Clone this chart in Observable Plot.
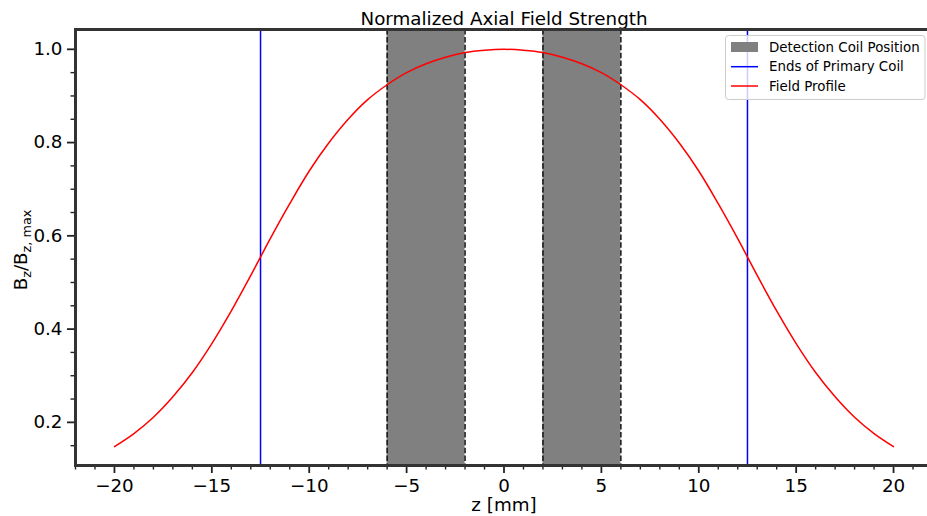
<!DOCTYPE html>
<html>
<head>
<meta charset="utf-8">
<script src="https://cdn.jsdelivr.net/npm/d3@7"></script>
<script src="https://cdn.jsdelivr.net/npm/@observablehq/plot@0.6"></script>
<style>
  html, body { margin: 0; padding: 0; background: #fff; }
  #chart svg { display: block; font-family: "DejaVu Sans", sans-serif; }
</style>
</head>
<body>
<div id="chart"></div>
<script>
// Axial position along the coil axis (mm)
const zPositions = [-20, -19, -18, -17, -16, -15, -14, -13, -12, -11, -10, -9, -8, -7, -6, -5, -4, -3, -2, -1,
  0, 1, 2, 3, 4, 5, 6, 7, 8, 9, 10, 11, 12, 13, 14, 15, 16, 17, 18, 19, 20];
// Normalized axial field B_z / B_z,max at each position
const fieldRatio = [0.148, 0.176, 0.211, 0.255, 0.307, 0.369, 0.439, 0.515, 0.594, 0.669, 0.739, 0.799, 0.850, 0.892, 0.924, 0.950, 0.969, 0.983, 0.993, 0.998,
  1.000, 0.998, 0.993, 0.983, 0.969, 0.950, 0.924, 0.892, 0.850, 0.799, 0.739, 0.669, 0.594, 0.515, 0.439, 0.369, 0.307, 0.255, 0.211, 0.176, 0.148];

// Detection coil extents (mm)
const coilStart = [-6, 2];
const coilEnd = [-2, 6];
// Ends of the primary coil (mm)
const primaryEnds = [-12.5, 12.5];

// Tick values
const xMajorTicks = [-20, -15, -10, -5, 0, 5, 10, 15, 20];
const xMinorTicks = [-22, -21, -19, -18, -17, -16, -14, -13, -12, -11, -9, -8, -7, -6, -4, -3, -2, -1,
  1, 2, 3, 4, 6, 7, 8, 9, 11, 12, 13, 14, 16, 17, 18, 19, 21, 22];
const yMajorTicks = [0.2, 0.4, 0.6, 0.8, 1.0];
const yMinorTicks = [0.15, 0.25, 0.3, 0.35, 0.45, 0.5, 0.55, 0.65, 0.7, 0.75, 0.85, 0.9, 0.95];

const titleText = "Normalized Axial Field Strength";
const xLabelText = "z [mm]";
const legendLabels = ["Detection Coil Position", "Ends of Primary Coil", "Field Profile"];
const legendColors = ["#808080", "#0000ff", "#ff0000"];

const profile = zPositions.map((z, i) => ({z, b: fieldRatio[i]}));
const bands = coilStart.map((s, i) => ({x1: s, x2: coilEnd[i]}));
const bandEdges = coilStart.concat(coilEnd);

const minusFmt = d => (d < 0 ? "\u2212" + Math.abs(d) : String(d));
const FS = 18.3;
const INK = "#222";

const plot = Plot.plot({
  width: 927,
  height: 516,
  marginLeft: 75,
  marginRight: -5,
  marginTop: 29,
  marginBottom: 51,
  style: {fontFamily: "DejaVu Sans, sans-serif", background: "#fff", color: "#000"},
  x: {domain: [-22, 22]},
  y: {domain: [0.1075, 1.0425]},
  marks: [
    Plot.rect(bands, {x1: "x1", x2: "x2", fill: "#808080"}),
    Plot.ruleX(bandEdges, {stroke: "#111", strokeWidth: 1.5, strokeDasharray: "5.5,2.4"}),
    Plot.ruleX(primaryEnds, {stroke: "#0000ff", strokeWidth: 1.5}),
    Plot.line(profile, {x: "z", y: "b", stroke: "#ff0000", strokeWidth: 1.5, curve: "catmull-rom"}),
    Plot.axisX(xMajorTicks, {tickSize: 8, tickPadding: 5.5, tickFormat: minusFmt, fontSize: FS, stroke: INK, strokeWidth: 1.8, fill: "#000", label: null}),
    Plot.axisX(xMinorTicks, {tickSize: 4.5, tickFormat: () => "", stroke: INK, strokeWidth: 1.4, label: null}),
    Plot.axisY(yMajorTicks, {tickSize: 8, tickPadding: 5, tickFormat: d3.format(".1f"), fontSize: FS, stroke: INK, strokeWidth: 1.8, fill: "#000", label: null}),
    Plot.axisY(yMinorTicks, {tickSize: 4.5, tickFormat: () => "", stroke: INK, strokeWidth: 1.4, label: null}),
    Plot.text([titleText], {frameAnchor: "top", dy: -5, lineAnchor: "bottom", fontSize: FS, fill: "#000"}),
    Plot.text([xLabelText], {frameAnchor: "bottom", dy: 40, lineAnchor: "middle", fontSize: FS, fill: "#000"}),
    Plot.frame({stroke: "#333", strokeWidth: 3})
  ]
});

document.getElementById("chart").appendChild(plot);

const svg = d3.select(plot);

// Y-axis label with subscripts
const yl = svg.append("text")
  .attr("transform", "translate(26.5,250) rotate(-90)")
  .attr("text-anchor", "middle")
  .attr("font-size", FS)
  .attr("fill", "#000");
yl.append("tspan").text("B");
yl.append("tspan").attr("font-size", FS * 0.7).attr("dy", 4).text("z");
yl.append("tspan").attr("dy", -4).text("/B");
yl.append("tspan").attr("font-size", FS * 0.7).attr("dy", 4).text("z, max");

// Legend
const lg = svg.append("g").attr("font-size", 13.4).attr("fill", "#000").attr("text-anchor", "start");
lg.append("rect")
  .attr("x", 725.5).attr("y", 35.5).attr("width", 199.5).attr("height", 64).attr("rx", 3)
  .attr("fill", "#fff").attr("fill-opacity", 0.8).attr("stroke", "#cccccc");
const rowY = [47, 66.7, 86];
legendLabels.forEach((label, i) => {
  if (i === 0) {
    lg.append("rect").attr("x", 731).attr("y", rowY[i] - 5).attr("width", 27).attr("height", 10).attr("fill", legendColors[i]);
  } else {
    lg.append("line").attr("x1", 731).attr("x2", 758).attr("y1", rowY[i]).attr("y2", rowY[i])
      .attr("stroke", legendColors[i]).attr("stroke-width", 1.5);
  }
  lg.append("text").attr("x", 769).attr("y", rowY[i]).attr("dy", "0.35em").text(label);
});
</script>
</body>
</html>
